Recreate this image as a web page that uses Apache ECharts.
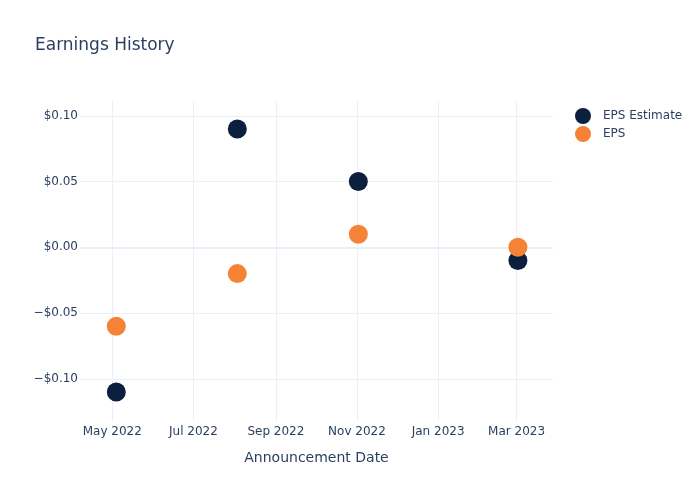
<!DOCTYPE html>
<html>
<head>
<meta charset="utf-8">
<script src="https://cdn.jsdelivr.net/npm/echarts@6/dist/echarts.min.js"></script>
<style>html,body{margin:0;padding:0;background:#fff}#c{width:700px;height:500px}</style>
</head>
<body>
<div id="c"></div>
<script>
const dates = ['2022-05-04', '2022-08-03', '2022-11-02', '2023-03-02'];
const epsEstimate = [-0.11, 0.09, 0.05, -0.01];
const eps = [-0.06, -0.02, 0.01, 0.00];
const monthNames = ['Jan','Feb','Mar','Apr','May','Jun','Jul','Aug','Sep','Oct','Nov','Dec'];

const DAY = 86400000;
const base = Date.UTC(2022, 4, 1);
const xMin = base - 24.3 * DAY;
const xMax = base + 331.4 * DAY;
const FONT = '"DejaVu Sans", Verdana, sans-serif';
const TXT = '#2a3f5f';
const GRID = '#ebf0f8';

function fmt(v) {
  return (v < 0 ? '\u2212' : '') + '$' + Math.abs(v).toFixed(2);
}
const toPts = arr => dates.map((d, i) => [d, arr[i]]);

const chart = echarts.init(document.getElementById('c'), null, {renderer: 'canvas'});
chart.setOption({
  animation: false,
  useUTC: true,
  backgroundColor: '#fff',
  textStyle: {fontFamily: FONT},
  title: {
    text: 'Earnings History', left: 30, top: 32,
    textStyle: {fontFamily: FONT, fontSize: 17, fontWeight: 'normal', color: TXT}
  },
  legend: {
    orient: 'vertical', left: 570, top: 103, itemWidth: 30, itemHeight: 16, itemGap: 2,
    icon: 'circle',
    textStyle: {fontFamily: FONT, fontSize: 12, color: TXT},
    data: ['EPS Estimate', 'EPS']
  },
  grid: {left: 80, right: 147, top: 101, bottom: 79, containLabel: false},
  xAxis: {
    type: 'time', min: xMin, max: xMax, splitNumber: 5,
    name: 'Announcement Date', nameLocation: 'middle', nameGap: 30,
    nameTextStyle: {fontFamily: FONT, fontSize: 14, color: TXT},
    axisLine: {show: false}, axisTick: {show: false},
    axisLabel: {
      fontFamily: FONT, fontSize: 12, color: TXT, margin: 5,
      showMinLabel: false, showMaxLabel: false, hideOverlap: false,
      formatter: function (v) {
        const d = new Date(v);
        return monthNames[d.getUTCMonth()] + ' ' + d.getUTCFullYear();
      }
    },
    splitLine: {show: true, showMinLine: false, showMaxLine: false, lineStyle: {color: GRID, width: 1}}
  },
  yAxis: {
    type: 'value', min: -0.1321, max: 0.1113, splitNumber: 5,
    axisLine: {show: false}, axisTick: {show: false},
    axisLabel: {
      fontFamily: FONT, fontSize: 12, color: TXT, margin: 2,
      showMinLabel: false, showMaxLabel: false,
      formatter: fmt
    },
    splitLine: {show: true, showMinLine: false, showMaxLine: false, lineStyle: {color: GRID, width: 1}}
  },
  series: [
    {
      type: 'line', silent: true, symbol: 'none', legendHoverLink: false,
      markLine: {
        silent: true, symbol: 'none', label: {show: false}, z: 1,
        lineStyle: {color: GRID, width: 2, type: 'solid'},
        data: [{yAxis: 0}]
      },
      data: [], z: 1
    },
    {
      name: 'EPS Estimate', type: 'scatter', symbolSize: 19,
      itemStyle: {color: '#0b1f3f', opacity: 1},
      data: toPts(epsEstimate), z: 3
    },
    {
      name: 'EPS', type: 'scatter', symbolSize: 19,
      itemStyle: {color: '#f58235', opacity: 1},
      data: toPts(eps), z: 4
    }
  ]
});
</script>
</body>
</html>
